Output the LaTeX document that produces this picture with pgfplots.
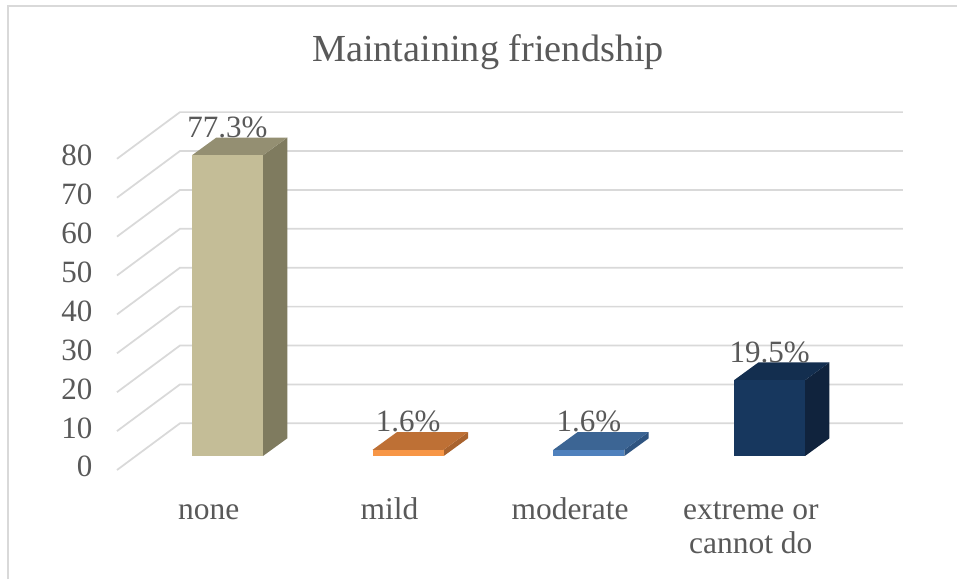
\documentclass[border=0pt]{standalone}
\usepackage{pgfplots}
\pgfplotsset{compat=1.18}
\usepackage{fontspec}
\setmainfont{Liberation Serif}
\definecolor{txt}{HTML}{595959}
\definecolor{gridc}{HTML}{D9D9D9}
\definecolor{tanF}{HTML}{C4BD97}
\definecolor{tanS}{HTML}{7F7B5F}
\definecolor{tanT}{HTML}{948F72}
\definecolor{orF}{HTML}{F79646}
\definecolor{orS}{HTML}{A9632E}
\definecolor{orT}{HTML}{BE7035}
\definecolor{blF}{HTML}{4F81BD}
\definecolor{blS}{HTML}{2F5480}
\definecolor{blT}{HTML}{3C6594}
\definecolor{nvF}{HTML}{17375E}
\definecolor{nvS}{HTML}{10233D}
\definecolor{nvT}{HTML}{132E4F}
\begin{document}
\begin{tikzpicture}
\path[use as bounding box] (0,0) rectangle (717.75pt,434.25pt);
\fill[white] (0,0) rectangle (717.75pt,434.25pt);
\draw[gridc, line width=1.5pt] (5.625pt,0pt) -- (5.625pt,430.1pt) -- (717.75pt,430.1pt);
\node[anchor=base, text=txt, inner sep=0pt, font=\fontsize{28.7}{34}\selectfont] at (366pt,387.75pt) {Maintaining friendship};
\begin{axis}[
  at={(87.75pt,81.75pt)}, anchor=south west,
  x=135.525pt, y=2.9175pt,
  xmin=-0.6115, xmax=3.738, ymin=-3.6, ymax=88.4,
  clip=false,
  axis line style={draw=none},
  tick style={draw=none},
  /pgf/number format/assume math mode=true,
  ytick={-3.6,6.4,16.4,26.4,36.4,46.4,56.4,66.4,76.4},
  yticklabels={0,10,20,30,40,50,60,70,80},
  yticklabel style={anchor=east, inner sep=0pt, xshift=-18.2pt, text=txt, font=\fontsize{23.25}{26}\selectfont},
  xtick={-0.104,0.896,1.896,2.896},
  xticklabels={none,mild,moderate,{extreme or\\cannot do}},
  typeset ticklabels with strut,
  xticklabel style={anchor=north, align=center, inner sep=0pt, yshift=-18.9pt, text=txt, font=\fontsize{23.6}{25.5}\selectfont},
  every node near coord/.append style={anchor=base, yshift=13.6pt, inner sep=0pt, text=txt, font=\fontsize{23.25}{26}\selectfont},
  nodes near coords={\pgfmathprintnumber[fixed,precision=1,fixed zerofill]{\pgfplotspointmeta}\%},
]
% gridlines (front floor edge -> back wall)
\addplot[gridc, line width=1.3pt, nodes near coords=] coordinates {(-0.6115,-3.6) (-0.263,8.4) (3.738,8.4)};
\addplot[gridc, line width=1.3pt, nodes near coords=] coordinates {(-0.6115,6.4) (-0.263,18.4) (3.738,18.4)};
\addplot[gridc, line width=1.3pt, nodes near coords=] coordinates {(-0.6115,16.4) (-0.263,28.4) (3.738,28.4)};
\addplot[gridc, line width=1.3pt, nodes near coords=] coordinates {(-0.6115,26.4) (-0.263,38.4) (3.738,38.4)};
\addplot[gridc, line width=1.3pt, nodes near coords=] coordinates {(-0.6115,36.4) (-0.263,48.4) (3.738,48.4)};
\addplot[gridc, line width=1.3pt, nodes near coords=] coordinates {(-0.6115,46.4) (-0.263,58.4) (3.738,58.4)};
\addplot[gridc, line width=1.3pt, nodes near coords=] coordinates {(-0.6115,56.4) (-0.263,68.4) (3.738,68.4)};
\addplot[gridc, line width=1.3pt, nodes near coords=] coordinates {(-0.6115,66.4) (-0.263,78.4) (3.738,78.4)};
\addplot[gridc, line width=1.3pt, nodes near coords=] coordinates {(-0.6115,76.4) (-0.263,88.4) (3.738,88.4)};
% side and top faces
\addplot[fill=tanS, draw=none, nodes near coords=] coordinates {(0.1965,0) (0.331,4.55) (0.331,81.85) (0.1965,77.3)};
\addplot[fill=tanT, draw=none, nodes near coords=] coordinates {(-0.1965,77.3) (0.1965,77.3) (0.331,81.85) (-0.062,81.85)};
\addplot[fill=orS, draw=none, nodes near coords=] coordinates {(1.1965,0) (1.331,4.55) (1.331,6.15) (1.1965,1.6)};
\addplot[fill=orT, draw=none, nodes near coords=] coordinates {(0.8035,1.6) (1.1965,1.6) (1.331,6.15) (0.938,6.15)};
\addplot[fill=blS, draw=none, nodes near coords=] coordinates {(2.1965,0) (2.331,4.55) (2.331,6.15) (2.1965,1.6)};
\addplot[fill=blT, draw=none, nodes near coords=] coordinates {(1.8035,1.6) (2.1965,1.6) (2.331,6.15) (1.938,6.15)};
\addplot[fill=nvS, draw=none, nodes near coords=] coordinates {(3.1965,0) (3.331,4.55) (3.331,24.05) (3.1965,19.5)};
\addplot[fill=nvT, draw=none, nodes near coords=] coordinates {(2.8035,19.5) (3.1965,19.5) (3.331,24.05) (2.938,24.05)};
% front faces with values
\addplot[ybar, bar width=0.393, bar shift=0pt, fill=tanF, draw=none] coordinates {(0,77.3)};
\addplot[ybar, bar width=0.393, bar shift=0pt, fill=orF, draw=none] coordinates {(1,1.6)};
\addplot[ybar, bar width=0.393, bar shift=0pt, fill=blF, draw=none] coordinates {(2,1.6)};
\addplot[ybar, bar width=0.393, bar shift=0pt, fill=nvF, draw=none] coordinates {(3,19.5)};
\end{axis}
\end{tikzpicture}
\end{document}
